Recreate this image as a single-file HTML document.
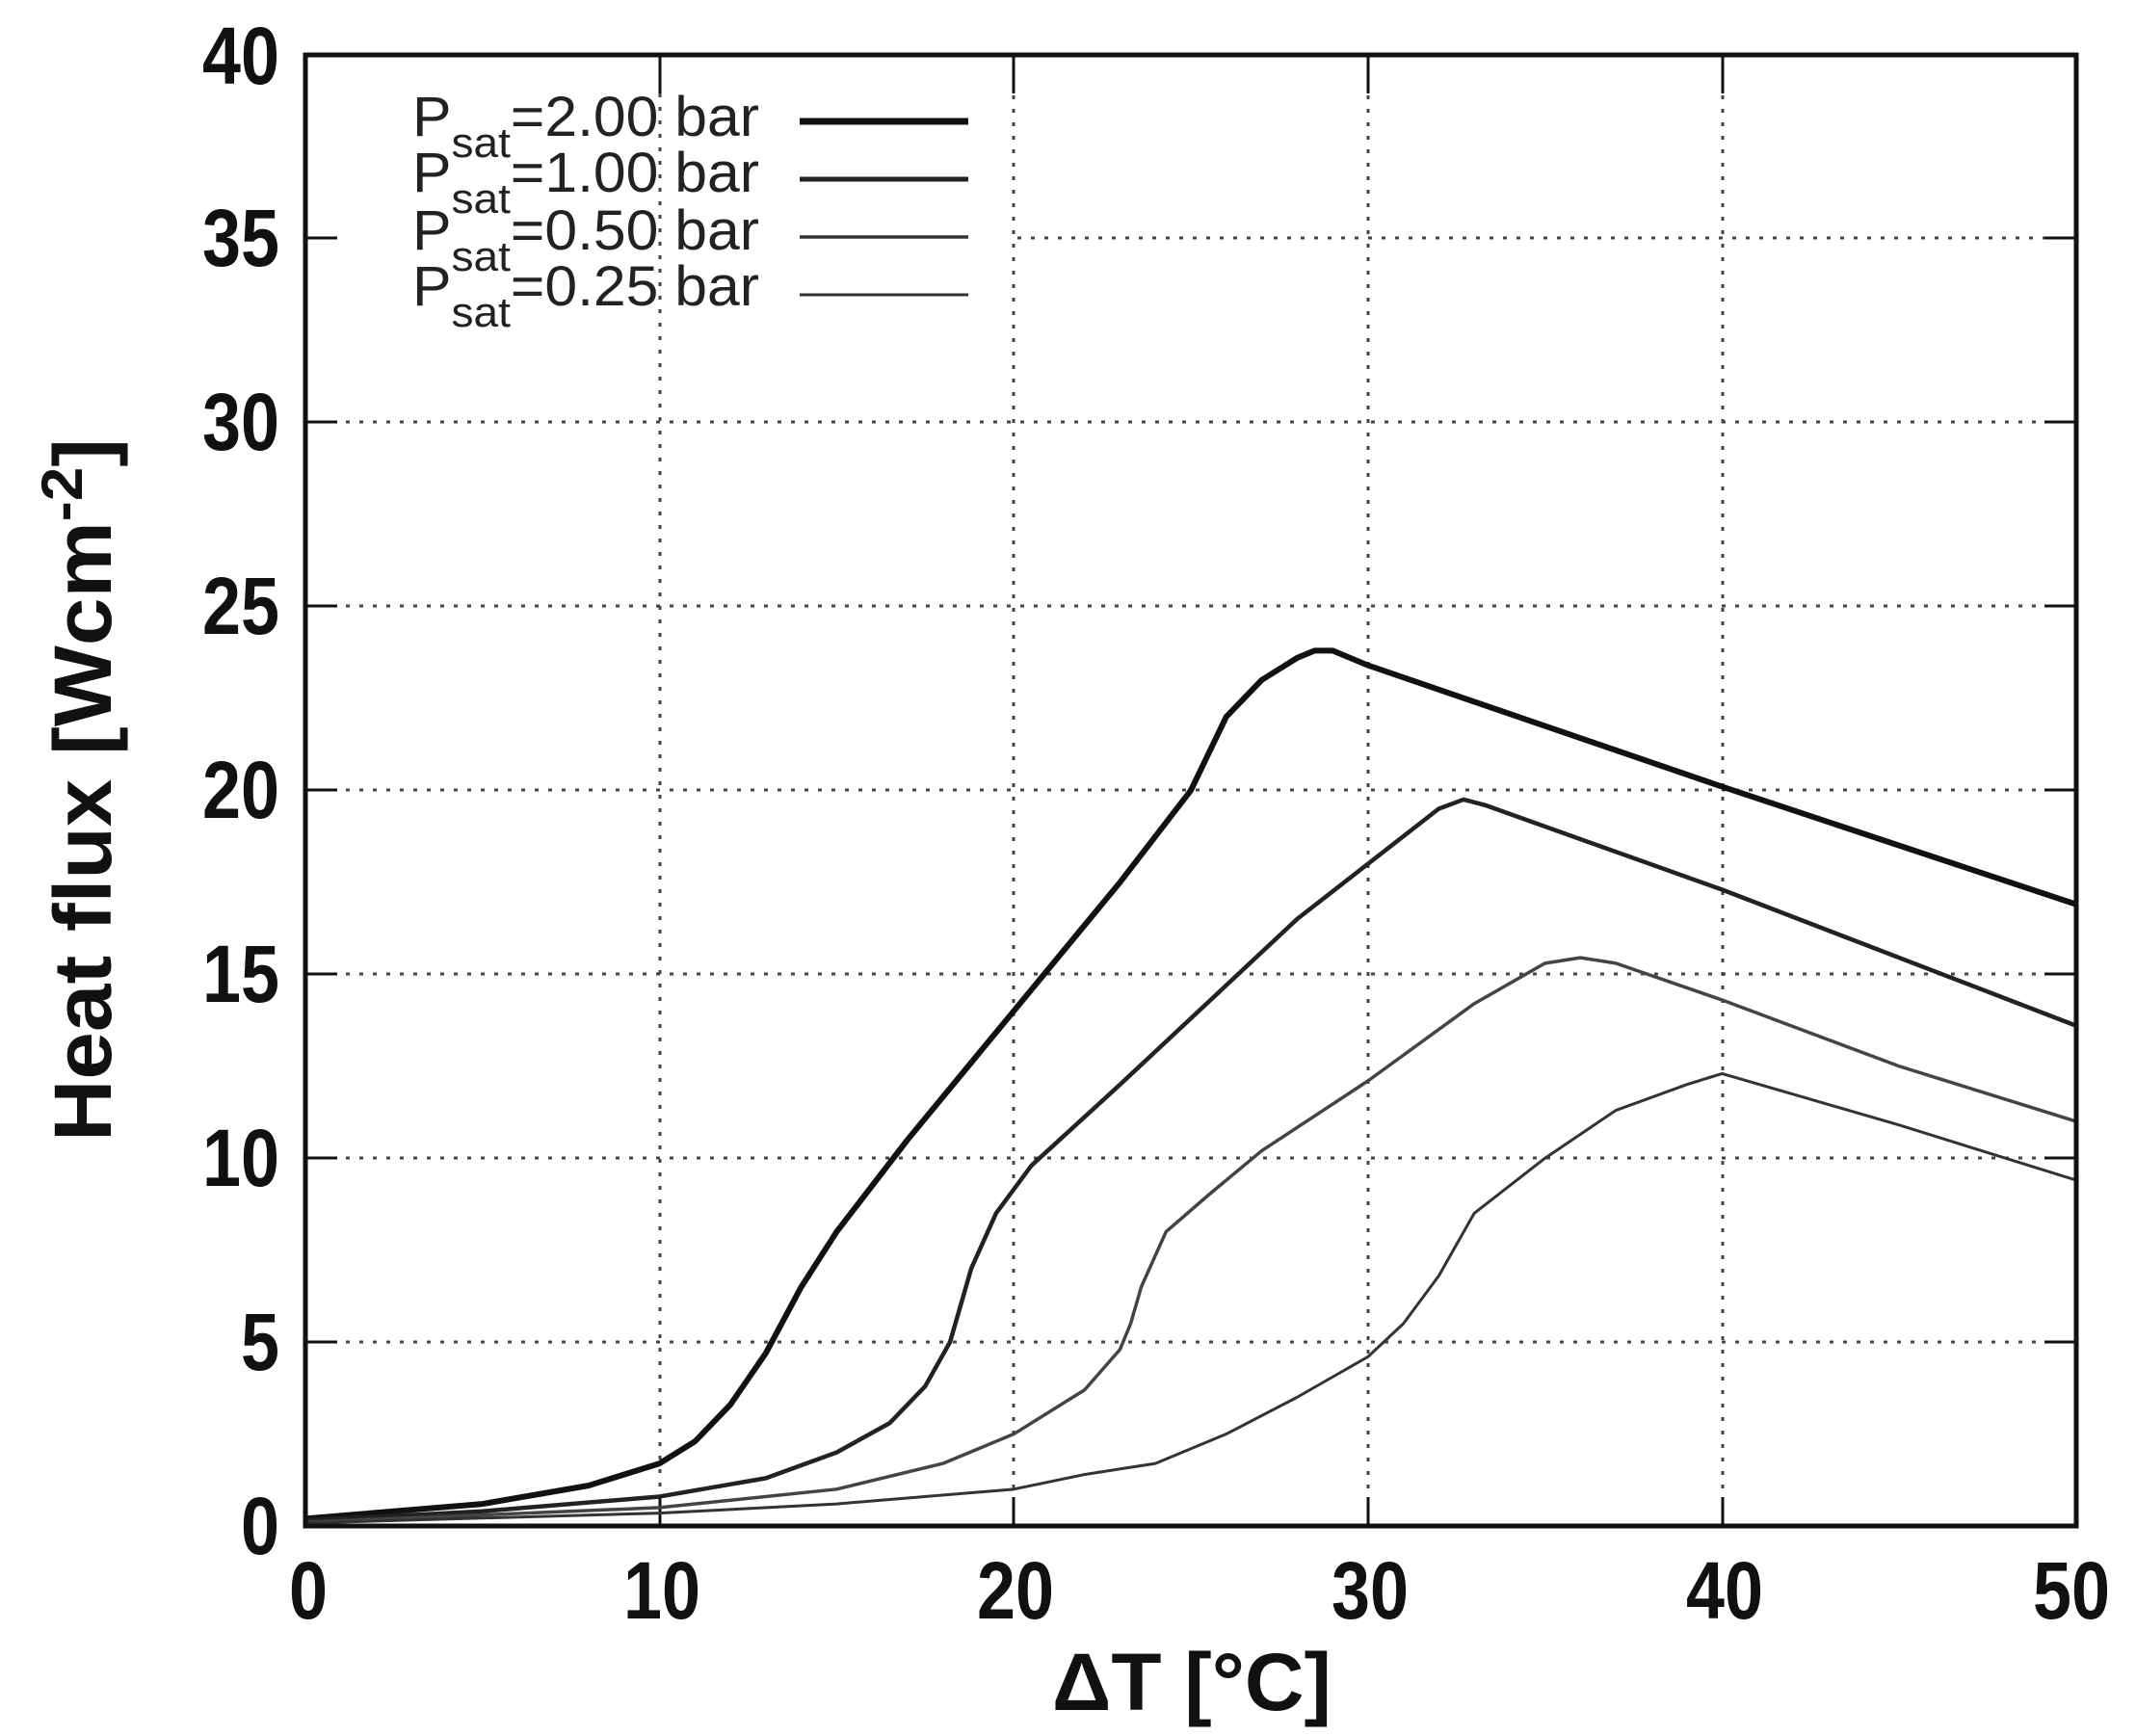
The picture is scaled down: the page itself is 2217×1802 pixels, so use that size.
<!DOCTYPE html>
<html><head><meta charset="utf-8"><style>body{margin:0;background:#fff}svg{display:block}</style></head><body>
<svg width="2217" height="1802" viewBox="0 0 2217 1802" xmlns="http://www.w3.org/2000/svg" font-family="Liberation Sans, sans-serif">
<g stroke="#444" stroke-width="3" stroke-dasharray="4 10" fill="none">
<line x1="685" y1="97" x2="685" y2="1584"/><line x1="1052" y1="57" x2="1052" y2="1584"/><line x1="1420" y1="57" x2="1420" y2="1584"/><line x1="1788" y1="57" x2="1788" y2="1584"/>
<line x1="317" y1="1393" x2="2155" y2="1393"/><line x1="317" y1="1202" x2="2155" y2="1202"/><line x1="317" y1="1011" x2="2155" y2="1011"/><line x1="317" y1="820" x2="2155" y2="820"/><line x1="317" y1="629" x2="2155" y2="629"/><line x1="317" y1="438" x2="2155" y2="438"/><line x1="1056" y1="247" x2="2155" y2="247"/>
</g>
<g stroke="#111" stroke-width="3">
<line x1="685" y1="1584" x2="685" y2="1554"/><line x1="1052" y1="1584" x2="1052" y2="1554"/><line x1="1420" y1="1584" x2="1420" y2="1554"/><line x1="1788" y1="1584" x2="1788" y2="1554"/>
<line x1="685" y1="57" x2="685" y2="97"/><line x1="1052" y1="57" x2="1052" y2="97"/><line x1="1420" y1="57" x2="1420" y2="97"/><line x1="1788" y1="57" x2="1788" y2="97"/>
<line x1="317" y1="1393" x2="350" y2="1393"/><line x1="317" y1="1202" x2="350" y2="1202"/><line x1="317" y1="1011" x2="350" y2="1011"/><line x1="317" y1="820" x2="350" y2="820"/><line x1="317" y1="629" x2="350" y2="629"/><line x1="317" y1="438" x2="350" y2="438"/><line x1="317" y1="247" x2="350" y2="247"/>
<line x1="2155" y1="1393" x2="2122" y2="1393"/><line x1="2155" y1="1202" x2="2122" y2="1202"/><line x1="2155" y1="1011" x2="2122" y2="1011"/><line x1="2155" y1="820" x2="2122" y2="820"/><line x1="2155" y1="629" x2="2122" y2="629"/><line x1="2155" y1="438" x2="2122" y2="438"/><line x1="2155" y1="247" x2="2122" y2="247"/>
</g>
<g transform="translate(317,1584) scale(36.76,-38.18)" fill="none" stroke-linejoin="round">
<polyline vector-effect="non-scaling-stroke" stroke="#111" stroke-width="6" points="0,0.2 5,0.6 8,1.1 10,1.7 11,2.3 12,3.3 13,4.7 14,6.5 15,8.0 17,10.5 20,14 23,17.5 25,20 26,22 27,23 28,23.6 28.5,23.8 29,23.8 30,23.4 40,20.1 50,16.9"/>
<polyline vector-effect="non-scaling-stroke" stroke="#222" stroke-width="4.5" points="0,0.15 5,0.4 10,0.8 13,1.3 15,2 16.5,2.8 17.5,3.8 18.2,5 18.8,7 19.5,8.5 20.5,9.8 23,12 26,14.7 28,16.5 30,18 32,19.5 32.7,19.75 33.3,19.6 40,17.3 50,13.6"/>
<polyline vector-effect="non-scaling-stroke" stroke="#444" stroke-width="3.5" points="0,0.1 10,0.5 15,1 18,1.7 20,2.5 22,3.7 23,4.8 23.3,5.5 23.6,6.5 24.3,8 25.5,9 27,10.2 30,12.1 33,14.2 35,15.3 36,15.45 37,15.3 40,14.3 45,12.5 50,11"/>
<polyline vector-effect="non-scaling-stroke" stroke="#333" stroke-width="3" points="0,0.08 10,0.35 15,0.6 20,1.0 22,1.4 24,1.7 26,2.5 28,3.5 30,4.6 31,5.5 32,6.8 33,8.5 35,10 37,11.3 39,12 40,12.3 45,10.9 50,9.4"/>
</g>
<rect x="317" y="57" width="1838" height="1527" fill="none" stroke="#111" stroke-width="5"/>
<g font-weight="bold" font-size="84" fill="#111" text-anchor="end">
<text x="290" y="1613" textLength="40" lengthAdjust="spacingAndGlyphs">0</text>
<text x="290" y="1422" textLength="40" lengthAdjust="spacingAndGlyphs">5</text>
<text x="290" y="1231" textLength="80" lengthAdjust="spacingAndGlyphs">10</text>
<text x="290" y="1040" textLength="80" lengthAdjust="spacingAndGlyphs">15</text>
<text x="290" y="849" textLength="80" lengthAdjust="spacingAndGlyphs">20</text>
<text x="290" y="658" textLength="80" lengthAdjust="spacingAndGlyphs">25</text>
<text x="290" y="467" textLength="80" lengthAdjust="spacingAndGlyphs">30</text>
<text x="290" y="276" textLength="80" lengthAdjust="spacingAndGlyphs">35</text>
<text x="290" y="87" textLength="80" lengthAdjust="spacingAndGlyphs">40</text>
</g>
<g font-weight="bold" font-size="84" fill="#111" text-anchor="middle">
<text x="320" y="1680" textLength="40" lengthAdjust="spacingAndGlyphs">0</text>
<text x="687" y="1680" textLength="80" lengthAdjust="spacingAndGlyphs">10</text>
<text x="1054" y="1680" textLength="80" lengthAdjust="spacingAndGlyphs">20</text>
<text x="1422" y="1680" textLength="80" lengthAdjust="spacingAndGlyphs">30</text>
<text x="1790" y="1680" textLength="80" lengthAdjust="spacingAndGlyphs">40</text>
<text x="2150" y="1680" textLength="80" lengthAdjust="spacingAndGlyphs">50</text>
<text x="1237" y="1775" textLength="290" lengthAdjust="spacingAndGlyphs">ΔT [°C]</text>
<text transform="translate(115,820) rotate(-90)" textLength="730" lengthAdjust="spacingAndGlyphs">Heat flux [Wcm<tspan font-size="60" dy="-30">-2</tspan><tspan dy="30">]</tspan></text>
</g>
<g font-size="58" fill="#222">
<text x="428" y="141" textLength="360" lengthAdjust="spacingAndGlyphs">P<tspan font-size="44" dy="22">sat</tspan><tspan dy="-22">=2.00 bar</tspan></text>
<text x="428" y="199" textLength="360" lengthAdjust="spacingAndGlyphs">P<tspan font-size="44" dy="22">sat</tspan><tspan dy="-22">=1.00 bar</tspan></text>
<text x="428" y="259" textLength="360" lengthAdjust="spacingAndGlyphs">P<tspan font-size="44" dy="22">sat</tspan><tspan dy="-22">=0.50 bar</tspan></text>
<text x="428" y="317" textLength="360" lengthAdjust="spacingAndGlyphs">P<tspan font-size="44" dy="22">sat</tspan><tspan dy="-22">=0.25 bar</tspan></text>
</g>
<line x1="830" y1="126" x2="1005" y2="126" stroke="#111" stroke-width="7"/>
<line x1="830" y1="186" x2="1005" y2="186" stroke="#222" stroke-width="5"/>
<line x1="830" y1="246" x2="1005" y2="246" stroke="#333" stroke-width="3.5"/>
<line x1="830" y1="306" x2="1005" y2="306" stroke="#333" stroke-width="3"/>
</svg>
</body></html>
